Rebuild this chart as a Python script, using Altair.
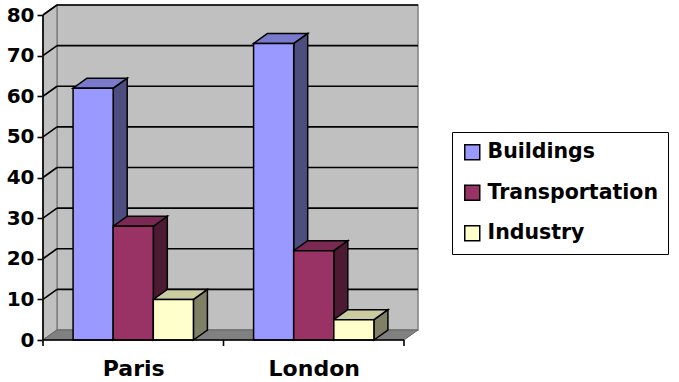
import altair as alt
import pandas as pd

# ---- data ----
categories = ["Paris", "London"]
series = ["Buildings", "Transportation", "Industry"]
buildings = [62, 73]
transportation = [28, 22]
industry = [10, 5]
y_ticks = [0, 10, 20, 30, 40, 50, 60, 70, 80]

front_colors = ["#9999FF", "#993366", "#FFFFCC"]
top_colors = ["#7A7ACC", "#7A2952", "#CCCCA3"]
side_colors = ["#4D4D80", "#4D1A33", "#808066"]

# ---- layout helpers ----
W, H = 375, 335
PX_X = 90.25          # px per category unit
PX_Y = 4.0625         # px per value unit
XMAX = W / PX_X
YMAX = H / PX_Y
DX = 14 / PX_X        # 3D depth, x
DY = 10 / PX_Y        # 3D depth, y
YTOP = y_ticks[-1]
XFRONT = 2 * len(categories)
BW = 2 / (len(series) + 1.5)
TICK = 6 / PX_Y

values = [buildings, transportation, industry]

front_rows, side_rows, top_rows = [], [], []
for ci, cat in enumerate(categories):
    center = 1 + 2 * ci
    for k, s in enumerate(series):
        v = values[k][ci]
        L = center - 1.5 * BW + k * BW
        R = L + BW
        bid = f"{cat}-{s}"
        front_rows.append(dict(series=s, x=L, x2=R, y=0, y2=v))
        side_rows.append(dict(id=bid, fill=side_colors[k], x=R, y=0, y2=v))
        side_rows.append(dict(id=bid, fill=side_colors[k], x=R + DX, y=DY, y2=v + DY))
        top_rows.append(dict(id=bid, fill=top_colors[k], y=v, x=L, x2=R))
        top_rows.append(dict(id=bid, fill=top_colors[k], y=v + DY, x=L + DX, x2=R + DX))

xs = alt.Scale(domain=[0, XMAX], nice=False, zero=False)
ys = alt.Scale(domain=[0, YMAX], nice=False, zero=False)

FONT = "DejaVu Sans"

# back wall
back = alt.Chart(pd.DataFrame([dict(x=DX, x2=XMAX, y=DY, y2=YMAX)])).mark_rect(
    fill="#C0C0C0", stroke="#808080", strokeWidth=1.5
).encode(x=alt.X("x:Q", scale=xs, axis=None), x2="x2", y=alt.Y("y:Q", scale=ys, axis=None), y2="y2")

# left wall
left = alt.Chart(pd.DataFrame([dict(x=0, y=0, y2=YTOP), dict(x=DX, y=DY, y2=YTOP + DY)])).mark_area(
    fill="#C0C0C0", stroke="#808080", strokeWidth=1.5
).encode(x=alt.X("x:Q", scale=xs, axis=None), y=alt.Y("y:Q", scale=ys, axis=None, stack=None), y2="y2")

# floor
floor = alt.Chart(pd.DataFrame([dict(y=0, x=0, x2=XFRONT), dict(y=DY, x=DX, x2=XFRONT + DX)])).mark_area(
    orient="horizontal", fill="#808080", stroke="#666666", strokeWidth=1
).encode(x=alt.X("x:Q", scale=xs, axis=None, stack=None), x2="x2", y=alt.Y("y:Q", scale=ys, axis=None))

# gridlines
grid_rows = []
for v in y_ticks[1:]:
    grid_rows.append(dict(x=DX, x2=XMAX, y=v + DY, y2=v + DY))
    grid_rows.append(dict(x=0, x2=DX, y=v, y2=v + DY))
grid = alt.Chart(pd.DataFrame(grid_rows)).mark_rule(color="black", strokeWidth=1.6).encode(
    x=alt.X("x:Q", scale=xs, axis=None), x2="x2", y=alt.Y("y:Q", scale=ys, axis=None), y2="y2"
)

# bars
sides = alt.Chart(pd.DataFrame(side_rows)).mark_area(stroke="black", strokeWidth=1.5).encode(
    x=alt.X("x:Q", scale=xs, axis=None),
    y=alt.Y("y:Q", scale=ys, axis=None, stack=None), y2="y2",
    detail="id:N", fill=alt.Fill("fill:N", scale=None),
)
tops = alt.Chart(pd.DataFrame(top_rows)).mark_area(orient="horizontal", stroke="black", strokeWidth=1.5).encode(
    x=alt.X("x:Q", scale=xs, axis=None, stack=None), x2="x2",
    y=alt.Y("y:Q", scale=ys, axis=None),
    detail="id:N", fill=alt.Fill("fill:N", scale=None),
)
fronts = alt.Chart(pd.DataFrame(front_rows)).mark_rect(stroke="black", strokeWidth=1.5, opacity=1).encode(
    x=alt.X("x:Q", scale=xs, axis=None), x2="x2",
    y=alt.Y("y:Q", scale=ys, axis=None), y2="y2",
    color=alt.Color(
        "series:N",
        scale=alt.Scale(domain=series, range=front_colors),
        legend=alt.Legend(
            orient="none", legendX=409, legendY=127, direction="vertical", title=None,
            symbolType="square", symbolSize=225, symbolStrokeColor="black", symbolStrokeWidth=1.5,
            symbolOpacity=1,
            labelFont=FONT, labelFontSize=20.5, labelFontWeight="bold", labelColor="black",
            labelLimit=300, labelOffset=5, rowPadding=18.5, padding=10,
            strokeColor="black", fillColor="white",
        ),
    ),
)

# axis lines + ticks, carrying the axes
label_expr = " : ".join(
    [f"datum.value == {1 + 2 * i} ? '{c}'" for i, c in enumerate(categories)]
) + " : ''"
axis_rows = [
    dict(x=0, x2=0, y=0, y2=YTOP),
    dict(x=0, x2=XFRONT, y=0, y2=0),
]
for c in range(0, XFRONT + 1, 2):
    axis_rows.append(dict(x=c, x2=c, y=0, y2=-TICK))
axes = alt.Chart(pd.DataFrame(axis_rows)).mark_rule(color="black", strokeWidth=1.6).encode(
    x=alt.X("x:Q", scale=xs, axis=alt.Axis(
        orient="bottom",
        values=[1 + 2 * i for i in range(len(categories))], labelExpr=label_expr,
        ticks=False, tickSize=0, domain=False, grid=False, title=None,
        labelFont=FONT, labelFontSize=22, labelFontWeight="bold", labelColor="black",
        labelPadding=18, labelFlush=False,
    )),
    x2="x2",
    y=alt.Y("y:Q", scale=ys, axis=alt.Axis(
        orient="left",
        values=y_ticks, domain=False, grid=False, title=None,
        ticks=True, tickSize=6, tickColor="black", tickWidth=1.6,
        labelFont=FONT, labelFontSize=20, labelFontWeight="bold", labelColor="black",
        labelPadding=3,
    )),
    y2="y2",
)

chart = alt.layer(back, left, floor, grid, sides, tops, fronts, axes).resolve_axis(
    x="independent", y="independent"
).properties(
    width=W, height=H,
    autosize=alt.AutoSizeParams(type="none"),
    padding={"left": 43, "top": 5, "right": 679 - 43 - W, "bottom": 382 - 5 - H},
    background="white",
).configure_view(stroke=None)

chart.save("out.html", embed_options={"renderer": "svg", "actions": False})
